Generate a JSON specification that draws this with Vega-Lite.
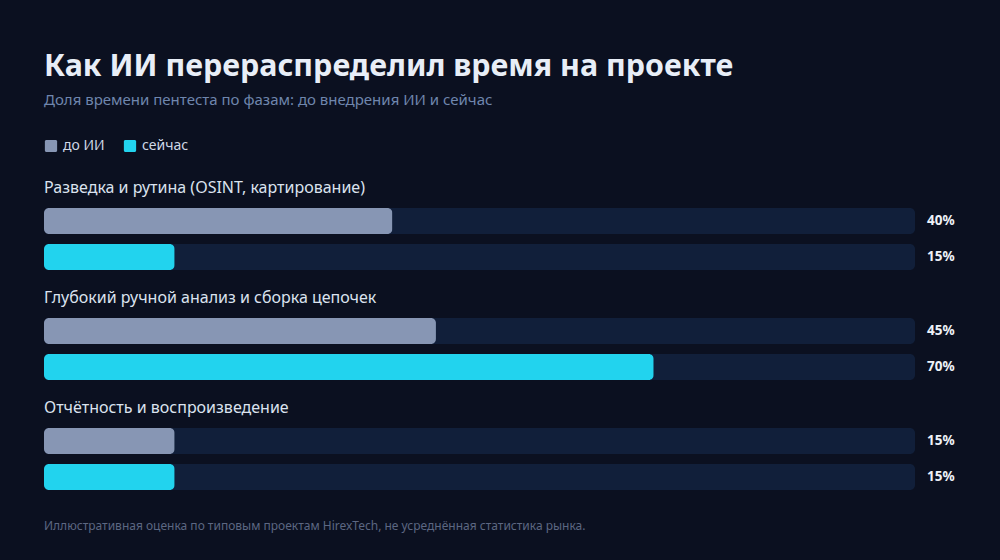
{
  "$schema": "https://vega.github.io/schema/vega-lite/v6.json",
  "background": "#0b1020",
  "padding": {"left": 44, "top": 51, "right": 47, "bottom": 36},
  "title": {
    "text": "Как ИИ перераспределил время на проекте",
    "subtitle": "Доля времени пентеста по фазам: до внедрения ИИ и сейчас",
    "anchor": "start",
    "font": "Noto Sans",
    "fontSize": 30.4,
    "fontWeight": "bold",
    "color": "#e8eef7",
    "subtitleFont": "Noto Sans",
    "subtitleFontSize": 15,
    "subtitleColor": "#6f86ad",
    "subtitlePadding": 11,
    "offset": 31
  },
  "data": {
    "values": [
      {"phase": "Разведка и рутина (OSINT, картирование)", "series": "до ИИ", "value": 0.40},
      {"phase": "Разведка и рутина (OSINT, картирование)", "series": "сейчас", "value": 0.15},
      {"phase": "Глубокий ручной анализ и сборка цепочек", "series": "до ИИ", "value": 0.45},
      {"phase": "Глубокий ручной анализ и сборка цепочек", "series": "сейчас", "value": 0.70},
      {"phase": "Отчётность и воспроизведение", "series": "до ИИ", "value": 0.15},
      {"phase": "Отчётность и воспроизведение", "series": "сейчас", "value": 0.15}
    ]
  },
  "vconcat": [
    {
      "title": {
        "text": "Иллюстративная оценка по типовым проектам HirexTech, не усреднённая статистика рынка.",
        "orient": "bottom",
        "anchor": "start",
        "font": "Noto Sans",
        "fontSize": 12,
        "fontWeight": "normal",
        "color": "#5c6782",
        "offset": 31
      },
      "facet": {
        "field": "phase",
        "type": "nominal",
        "sort": ["Разведка и рутина (OSINT, картирование)", "Глубокий ручной анализ и сборка цепочек", "Отчётность и воспроизведение"],
        "header": {
          "title": null,
          "labelAnchor": "start",
          "labelFont": "Noto Sans",
          "labelFontSize": 16,
          "labelColor": "#dbe3ef",
          "labelPadding": 12
        }
      },
      "columns": 1,
      "spacing": 20,
      "spec": {
        "width": 871,
        "height": 62,
        "encoding": {
          "y": {
            "field": "series",
            "type": "nominal",
            "sort": ["до ИИ", "сейчас"],
            "scale": {"paddingInner": 0.2778, "paddingOuter": 0},
            "axis": null
          }
        },
        "layer": [
          {
            "mark": {"type": "bar", "cornerRadius": 5, "color": "#111f3a"},
            "encoding": {
              "x": {"datum": 1, "type": "quantitative", "scale": {"domain": [0, 1]}, "axis": null},
              "x2": {"datum": 0}
            }
          },
          {
            "mark": {"type": "bar", "cornerRadius": 5},
            "encoding": {
              "x": {"field": "value", "type": "quantitative", "scale": {"domain": [0, 1]}, "axis": null},
              "color": {
                "field": "series",
                "type": "nominal",
                "scale": {"domain": ["до ИИ", "сейчас"], "range": ["#8796b4", "#22d3ee"]},
                "legend": {
                  "title": null,
                  "orient": "top",
                  "direction": "horizontal",
                  "symbolType": "M-0.75,-1H0.75A0.25,0.25 0 0 1 1,-0.75V0.75A0.25,0.25 0 0 1 0.75,1H-0.75A0.25,0.25 0 0 1 -1,0.75V-0.75A0.25,0.25 0 0 1 -0.75,-1Z",
                  "symbolSize": 150,
                  "symbolStrokeWidth": 0,
                  "symbolOpacity": 1,
                  "labelFont": "Noto Sans",
                  "labelFontSize": 14,
                  "labelColor": "#cfd8e6",
                  "columnPadding": 18,
                  "labelOffset": 5,
                  "offset": 27
                }
              }
            }
          },
          {
            "mark": {"type": "text", "align": "left", "dx": 12, "font": "Noto Sans", "fontSize": 13.5, "fontWeight": "bold", "color": "#eef2f8"},
            "encoding": {
              "x": {"datum": 1, "type": "quantitative", "scale": {"domain": [0, 1]}, "axis": null},
              "text": {"field": "value", "type": "quantitative", "format": ".0%"}
            }
          }
        ]
      }
    }
  ],
  "config": {
    "view": {"stroke": null},
    "font": "Noto Sans"
  }
}
